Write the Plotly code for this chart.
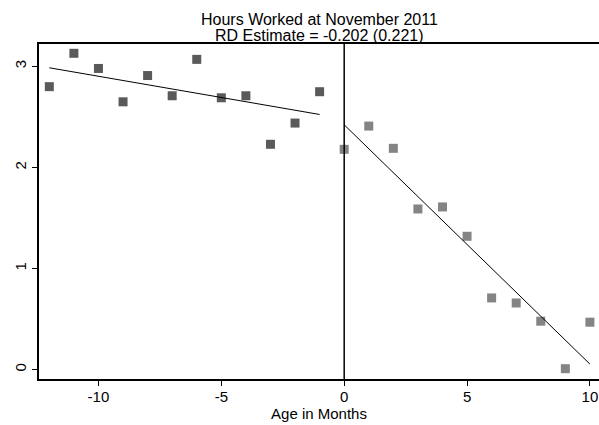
import numpy as np
import plotly.graph_objects as go

# Binned means of hours worked by age in months, on each side of the cutoff
age_left = [-12, -11, -10, -9, -8, -7, -6, -5, -4, -3, -2, -1]
hours_left = [2.80, 3.13, 2.98, 2.65, 2.91, 2.71, 3.07, 2.69, 2.71, 2.23, 2.44, 2.75]
age_right = [0, 1, 2, 3, 4, 5, 6, 7, 8, 9, 10]
hours_right = [2.18, 2.41, 2.19, 1.59, 1.61, 1.32, 0.71, 0.66, 0.48, 0.01, 0.47]

x_ticks = [-10, -5, 0, 5, 10]
x_tick_labels = ["-10", "-5", "0", "5", "10"]
y_ticks = [0, 1, 2, 3]
y_tick_labels = ["0", "1", "2", "3"]

FONT = "Liberation Sans, Arial, Helvetica, sans-serif"


def linear_fit(x, y):
    slope, intercept = np.polyfit(x, y, 1)
    xs = np.array([min(x), max(x)], dtype=float)
    return xs, intercept + slope * xs


fig = go.Figure()

fig.add_trace(go.Scatter(
    x=age_left, y=hours_left, mode="markers",
    marker=dict(symbol="square", size=9, color="#5a5a5a"),
    showlegend=False,
))
fig.add_trace(go.Scatter(
    x=age_right, y=hours_right, mode="markers",
    marker=dict(symbol="square", size=9, color="#848484"),
    showlegend=False,
))

for xs, ys in (linear_fit(age_left, hours_left), linear_fit(age_right, hours_right)):
    fig.add_trace(go.Scatter(
        x=xs, y=ys, mode="lines",
        line=dict(color="black", width=1),
        showlegend=False,
    ))

# cutoff at age zero
fig.add_shape(type="line", xref="x", yref="paper", x0=0, x1=0, y0=0, y1=1,
              line=dict(color="black", width=1.5))

fig.add_annotation(text="Hours Worked at November 2011", xref="paper", yref="paper",
                   x=0.5, y=1, yshift=25, xanchor="center", yanchor="middle",
                   showarrow=False, font=dict(family=FONT, size=16, color="black"))
fig.add_annotation(text="RD Estimate = -0.202 (0.221)", xref="paper", yref="paper",
                   x=0.5, y=1, yshift=9, xanchor="center", yanchor="middle",
                   showarrow=False, font=dict(family=FONT, size=16, color="black"))

fig.update_layout(
    width=599, height=425,
    margin=dict(l=39, r=0, t=44, b=46),
    paper_bgcolor="white", plot_bgcolor="white",
    font=dict(family=FONT, size=15, color="black"),
    xaxis=dict(
        range=[-12.42, 10.37], tickvals=x_ticks, ticktext=x_tick_labels,
        ticks="outside", ticklen=5, ticklabelstandoff=-2,
        tickcolor="black", showline=True, linecolor="black", linewidth=1.5,
        mirror=True, showgrid=False, zeroline=False,
        title=dict(text="Age in Months", standoff=2, font=dict(size=15)),
        tickfont=dict(size=15),
    ),
    yaxis=dict(
        range=[-0.092, 3.222], tickvals=y_ticks, ticktext=y_tick_labels,
        ticks="outside", ticklen=5,
        tickcolor="black", showline=True, linecolor="black", linewidth=1.5,
        showgrid=False, zeroline=False, tickangle=-90,
        tickfont=dict(size=15),
    ),
)

fig.write_html("out.html")
